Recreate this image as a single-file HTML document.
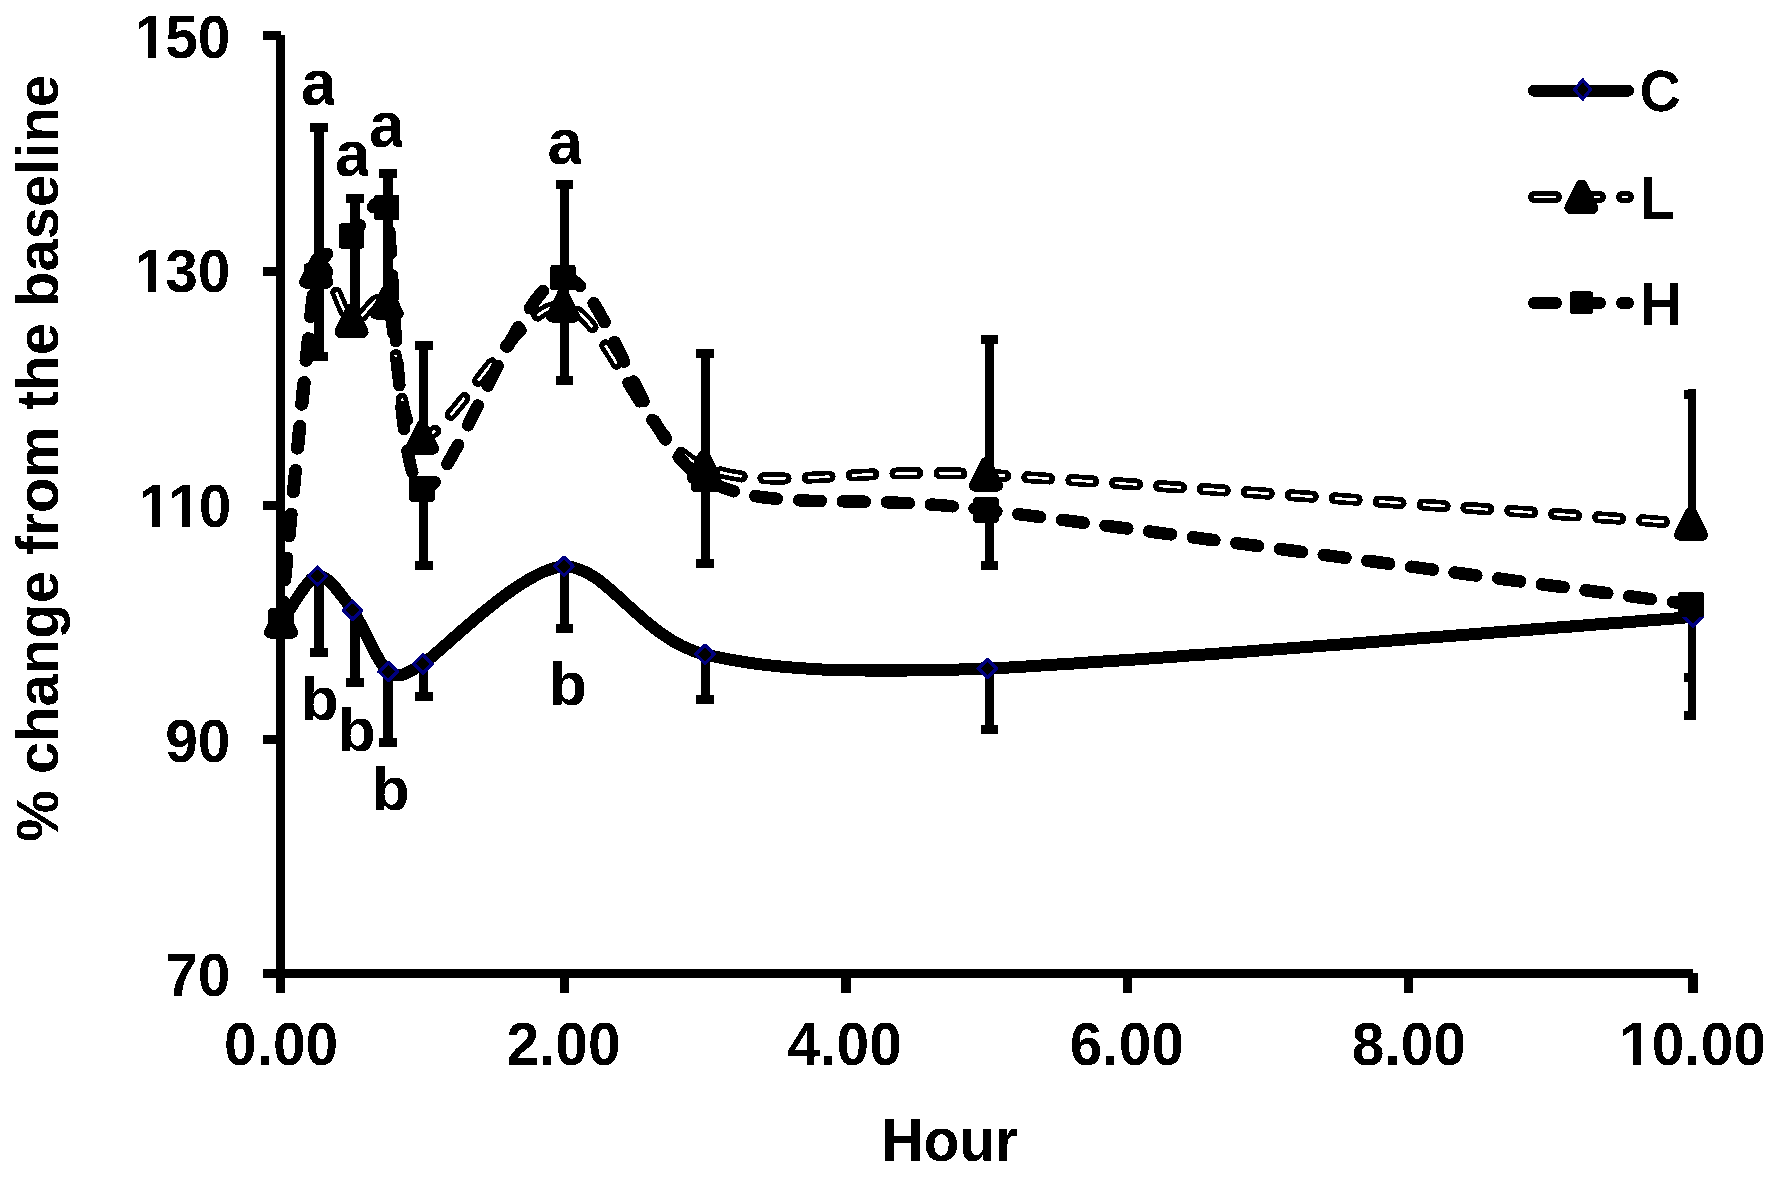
<!DOCTYPE html>
<html lang="en"><head><meta charset="utf-8"><title>% change from the baseline by Hour</title>
<style>
html,body{margin:0;padding:0;background:#fff;}
body{width:1780px;height:1178px;overflow:hidden;}
svg{display:block;}
text{font-family:"Liberation Sans", sans-serif;fill:#000;}
.b{font-weight:bold;}
.t{font-size:58.67px;}
.s{font-size:63.5px;}
.s2{font-size:62px;}
.lg{font-size:54.7px;font-weight:normal;stroke:#000;stroke-width:2.6px;stroke-linejoin:miter;}
</style></head><body>
<svg width="1780" height="1178" viewBox="0 0 1780 1178" role="img" aria-label="Line chart: % change from the baseline by Hour for groups C, L and H">
<defs><filter id="thr" x="0" y="0" width="1780" height="1178" filterUnits="userSpaceOnUse" color-interpolation-filters="sRGB">
<feColorMatrix type="matrix" values="1 0 0 0 0  1 0 0 0 0  -1 0 1 0 0  0 0 0 1 0"/>
<feComponentTransfer><feFuncR type="discrete" tableValues="0 1"/><feFuncG type="discrete" tableValues="0 1"/><feFuncB type="discrete" tableValues="0 0.502 0.502 0.502"/></feComponentTransfer>
<feColorMatrix type="matrix" values="1 0 0 0 0  0 1 0 0 0  1 0 1 0 0  0 0 0 1 0"/>
</filter></defs>
<rect x="0" y="0" width="1780" height="1178" fill="#fff"/>
<g filter="url(#thr)">
<rect x="0" y="0" width="1780" height="1178" fill="#fff"/>
<g fill="#000" shape-rendering="crispEdges">
<rect x="276" y="35" width="9" height="958"/>
<rect x="263" y="969" width="1430" height="9"/>
<rect x="263" y="31" width="18" height="9"/>
<rect x="263" y="267" width="18" height="9"/>
<rect x="263" y="501" width="18" height="9"/>
<rect x="263" y="735" width="18" height="9"/>
<rect x="560" y="973" width="9" height="20"/>
<rect x="841" y="973" width="10" height="20"/>
<rect x="1123" y="973" width="9" height="20"/>
<rect x="1404" y="973" width="9" height="20"/>
<rect x="1688" y="973" width="10" height="20"/>
</g>
<text class="b t" transform="translate(228.40 57.70) scale(1.0000 1.0300)" text-anchor="end"><tspan dx="2">1</tspan><tspan dx="-2">50</tspan></text>
<rect x="135" y="50.8" width="13" height="9" fill="#fff"/>
<rect x="156" y="50.8" width="12" height="9" fill="#fff"/>
<text class="b t" transform="translate(228.40 291.80) scale(1.0000 1.0300)" text-anchor="end"><tspan dx="2">1</tspan><tspan dx="-2">30</tspan></text>
<rect x="135" y="284.9" width="13" height="9" fill="#fff"/>
<rect x="156" y="284.9" width="12" height="9" fill="#fff"/>
<text class="b t" transform="translate(228.40 526.60) scale(1.0000 1.0300)" text-anchor="end"><tspan dx="3">11</tspan><tspan dx="-2">0</tspan></text>
<rect x="139" y="519.7" width="13" height="9" fill="#fff"/>
<rect x="160" y="519.7" width="22" height="9" fill="#fff"/>
<rect x="190" y="519.7" width="12" height="9" fill="#fff"/>
<text class="b t" transform="translate(230.40 761.70) scale(1.0000 1.0300)" text-anchor="end">90</text>
<text class="b t" transform="translate(230.40 995.90) scale(1.0000 1.0300)" text-anchor="end">70</text>
<text class="b t" transform="translate(281.10 1065.40) scale(1.0000 1.0300)" text-anchor="middle">0.00</text>
<text class="b t" transform="translate(563.50 1065.40) scale(1.0000 1.0300)" text-anchor="middle">2.00</text>
<text class="b t" transform="translate(844.70 1065.40) scale(1.0000 1.0300)" text-anchor="middle">4.00</text>
<text class="b t" transform="translate(1126.80 1065.40) scale(1.0000 1.0300)" text-anchor="middle">6.00</text>
<text class="b t" transform="translate(1408.90 1065.40) scale(1.0000 1.0300)" text-anchor="middle">8.00</text>
<text class="b t" transform="translate(1692.50 1065.40) scale(1.0000 1.0300)" text-anchor="middle">10.00</text>
<rect x="1620" y="1058.5" width="13" height="9" fill="#fff"/>
<rect x="1641" y="1058.5" width="11" height="9" fill="#fff"/>
<text class="b t" transform="translate(949.60 1160.60) scale(1.0000 1.0300)" text-anchor="middle">Hour</text>
<text class="b t" transform="translate(58.3 458.3) rotate(-90)" text-anchor="middle" textLength="767" lengthAdjust="spacingAndGlyphs">% change from the baseline</text>
<g fill="#000" shape-rendering="crispEdges">
<rect x="314" y="123.0" width="10" height="238.0"/>
<rect x="310" y="123.0" width="18" height="9"/>
<rect x="310" y="352.0" width="18" height="9"/>
<rect x="350" y="194.0" width="10" height="141.0"/>
<rect x="346" y="194.0" width="18" height="9"/>
<rect x="383" y="169.0" width="10" height="146.0"/>
<rect x="379" y="169.0" width="18" height="9"/>
<rect x="419" y="341.0" width="9" height="99.0"/>
<rect x="415" y="341.0" width="18" height="9"/>
<rect x="419" y="489.0" width="9" height="81.0"/>
<rect x="415" y="561.0" width="18" height="9"/>
<rect x="560" y="180.0" width="9" height="205.0"/>
<rect x="556" y="180.0" width="17" height="9"/>
<rect x="556" y="376.0" width="17" height="9"/>
<rect x="701" y="349.0" width="9" height="219.0"/>
<rect x="696" y="349.0" width="18" height="9"/>
<rect x="696" y="559.0" width="18" height="9"/>
<rect x="985" y="335.0" width="9" height="140.0"/>
<rect x="981" y="335.0" width="17" height="9"/>
<rect x="985" y="510.0" width="9" height="60.0"/>
<rect x="981" y="561.0" width="17" height="9"/>
<rect x="1688" y="389.0" width="8" height="135.0"/>
<rect x="1684" y="389.5" width="12" height="9"/>
<rect x="1688" y="604.0" width="8" height="116.0"/>
<rect x="1684" y="673.0" width="12" height="9"/>
<rect x="1684" y="711.0" width="12" height="9"/>
<rect x="314" y="576.0" width="10" height="81.0"/>
<rect x="310" y="648.0" width="18" height="9"/>
<rect x="350" y="610.0" width="10" height="77.0"/>
<rect x="346" y="678.0" width="18" height="9"/>
<rect x="383" y="672.0" width="10" height="75.0"/>
<rect x="379" y="738.0" width="18" height="9"/>
<rect x="419" y="664.0" width="9" height="37.0"/>
<rect x="415" y="692.0" width="18" height="9"/>
<rect x="560" y="566.0" width="9" height="67.0"/>
<rect x="556" y="624.0" width="17" height="9"/>
<rect x="701" y="654.0" width="9" height="50.0"/>
<rect x="696" y="695.0" width="18" height="9"/>
<rect x="985" y="668.0" width="9" height="66.0"/>
<rect x="981" y="725.0" width="17" height="9"/>
</g>
<path d="M282.00 621.75 C287.31 614.89 306.84 577.75 317.40 576.00 C327.96 574.25 341.78 595.75 352.40 610.10 C363.02 624.46 377.62 663.65 388.20 671.70 C398.77 679.75 407.64 672.95 422.90 663.80 C438.16 654.65 521.58 567.81 563.90 566.40 C606.22 564.99 641.49 639.10 705.00 654.40 C768.51 669.70 846.08 673.76 987.30 668.40 C1128.52 663.04 1586.97 624.62 1692.80 616.90" fill="none" stroke="#000" stroke-width="12" stroke-linecap="round" stroke-linejoin="round"/>
<polygon points="316.80,565.17 318.00,565.17 328.23,575.40 328.23,576.60 318.00,586.83 316.80,586.83 306.57,576.60 306.57,575.40" fill="#000080"/>
<polygon points="317.40,569.23 324.17,576.00 317.40,582.77 310.63,576.00" fill="#000"/>
<polygon points="351.80,599.27 353.00,599.27 363.23,609.50 363.23,610.70 353.00,620.93 351.80,620.93 341.57,610.70 341.57,609.50" fill="#000080"/>
<polygon points="352.40,603.33 359.17,610.10 352.40,616.87 345.63,610.10" fill="#000"/>
<polygon points="387.60,660.87 388.80,660.87 399.03,671.10 399.03,672.30 388.80,682.53 387.60,682.53 377.37,672.30 377.37,671.10" fill="#000080"/>
<polygon points="388.20,664.93 394.97,671.70 388.20,678.47 381.43,671.70" fill="#000"/>
<polygon points="422.30,652.97 423.50,652.97 433.73,663.20 433.73,664.40 423.50,674.63 422.30,674.63 412.07,664.40 412.07,663.20" fill="#000080"/>
<polygon points="422.90,657.03 429.67,663.80 422.90,670.57 416.13,663.80" fill="#000"/>
<polygon points="563.30,555.57 564.50,555.57 574.73,565.80 574.73,567.00 564.50,577.23 563.30,577.23 553.07,567.00 553.07,565.80" fill="#000080"/>
<polygon points="563.90,559.63 570.67,566.40 563.90,573.17 557.13,566.40" fill="#000"/>
<polygon points="704.40,643.57 705.60,643.57 715.83,653.80 715.83,655.00 705.60,665.23 704.40,665.23 694.17,655.00 694.17,653.80" fill="#000080"/>
<polygon points="705.00,647.63 711.77,654.40 705.00,661.17 698.23,654.40" fill="#000"/>
<polygon points="986.70,657.57 987.90,657.57 998.13,667.80 998.13,669.00 987.90,679.23 986.70,679.23 976.47,669.00 976.47,667.80" fill="#000080"/>
<polygon points="987.30,661.63 994.07,668.40 987.30,675.17 980.53,668.40" fill="#000"/>
<polygon points="1692.20,606.07 1693.40,606.07 1703.63,616.30 1703.63,617.50 1693.40,627.73 1692.20,627.73 1681.97,617.50 1681.97,616.30" fill="#000080"/>
<polygon points="1692.80,610.13 1699.57,616.90 1692.80,623.67 1686.03,616.90" fill="#000"/>
<path d="M281.00 621.60 C286.29 569.04 309.28 300.90 316.25 271.20 C323.22 241.50 340.93 316.29 351.50 321.00 C362.07 325.71 376.46 285.59 386.75 302.60 C397.04 319.61 395.56 437.17 422.00 437.60" fill="none" stroke="#000" stroke-width="12" stroke-linecap="round" stroke-dasharray="22 22" stroke-dashoffset="2.20"/>
<path d="M281.00 621.60 C286.29 569.04 309.28 300.90 316.25 271.20 C323.22 241.50 340.93 316.29 351.50 321.00 C362.07 325.71 376.46 285.59 386.75 302.60 C397.04 319.61 395.56 437.17 422.00 437.60" fill="none" stroke="#fff" stroke-width="2.7" stroke-linecap="butt" stroke-dasharray="22 22" stroke-dashoffset="2.20"/>
<path d="M422.00 437.60 C448.44 438.04 520.70 301.09 563.00 305.50 C605.30 309.91 640.55 441.62 704.00 467.00 C767.45 492.38 845.18 466.60 986.00 474.70 C1126.82 482.80 1585.25 516.43 1691.00 523.80" fill="none" stroke="#000" stroke-width="12" stroke-linecap="round" stroke-dasharray="22 22" stroke-dashoffset="6.77"/>
<path d="M422.00 437.60 C448.44 438.04 520.70 301.09 563.00 305.50 C605.30 309.91 640.55 441.62 704.00 467.00 C767.45 492.38 845.18 466.60 986.00 474.70 C1126.82 482.80 1585.25 516.43 1691.00 523.80" fill="none" stroke="#fff" stroke-width="2.7" stroke-linecap="butt" stroke-dasharray="22 22" stroke-dashoffset="6.77"/>
<path d="M281.00 621.00 C286.29 569.25 311.45 302.22 316.25 276.00 C321.05 249.78 340.93 246.29 351.50 236.00 C362.07 225.71 380.66 185.54 386.75 207.40 C392.84 229.26 395.56 478.54 422.00 489.10" fill="none" stroke="#000" stroke-width="12.5" stroke-linecap="round" stroke-dasharray="22 22" stroke-dashoffset="2.20"/>
<path d="M422.00 489.10 C448.44 499.66 520.70 279.31 563.00 277.80 C605.30 276.29 640.55 444.17 704.00 479.00 C767.45 513.83 845.28 492.11 986.00 510.00 C1126.72 527.89 1585.25 590.33 1691.00 604.50" fill="none" stroke="#000" stroke-width="12.5" stroke-linecap="round" stroke-dasharray="22 22" stroke-dashoffset="6.49"/>
<path d="M281.0 610.1 L292.0 632.6 L270.0 632.6Z" fill="#000" stroke="#000" stroke-width="12" stroke-linejoin="round"/>
<path d="M316.2 259.7 L327.2 282.2 L305.2 282.2Z" fill="#000" stroke="#000" stroke-width="12" stroke-linejoin="round"/>
<path d="M351.5 309.5 L362.5 332.0 L340.5 332.0Z" fill="#000" stroke="#000" stroke-width="12" stroke-linejoin="round"/>
<path d="M386.8 291.1 L397.8 313.6 L375.8 313.6Z" fill="#000" stroke="#000" stroke-width="12" stroke-linejoin="round"/>
<path d="M422.0 426.1 L433.0 448.6 L411.0 448.6Z" fill="#000" stroke="#000" stroke-width="12" stroke-linejoin="round"/>
<path d="M563.0 294.0 L574.0 316.5 L552.0 316.5Z" fill="#000" stroke="#000" stroke-width="12" stroke-linejoin="round"/>
<path d="M704.0 455.5 L715.0 478.0 L693.0 478.0Z" fill="#000" stroke="#000" stroke-width="12" stroke-linejoin="round"/>
<path d="M986.0 463.2 L997.0 485.7 L975.0 485.7Z" fill="#000" stroke="#000" stroke-width="12" stroke-linejoin="round"/>
<path d="M1691.0 512.3 L1702.0 534.8 L1680.0 534.8Z" fill="#000" stroke="#000" stroke-width="12" stroke-linejoin="round"/>
<rect x="268.5" y="608.5" width="25" height="25" rx="1.5" fill="#000"/>
<rect x="303.8" y="263.5" width="25" height="25" rx="1.5" fill="#000"/>
<rect x="339.0" y="223.5" width="25" height="25" rx="1.5" fill="#000"/>
<rect x="374.2" y="194.9" width="25" height="25" rx="1.5" fill="#000"/>
<rect x="409.5" y="476.6" width="25" height="25" rx="1.5" fill="#000"/>
<rect x="550.5" y="265.3" width="25" height="25" rx="1.5" fill="#000"/>
<rect x="691.5" y="466.5" width="25" height="25" rx="1.5" fill="#000"/>
<rect x="973.5" y="497.5" width="25" height="25" rx="1.5" fill="#000"/>
<rect x="1678.5" y="592.0" width="25" height="25" rx="1.5" fill="#000"/>
<text class="b s" transform="translate(300.90 105.00) scale(1.0000 1.0300)" text-anchor="start">a</text>
<rect x="333.9" y="98.0" width="6" height="9" fill="#fff"/>
<text class="b s" transform="translate(335.00 175.70) scale(1.0000 1.0300)" text-anchor="start">a</text>
<rect x="368.0" y="168.7" width="6" height="9" fill="#fff"/>
<text class="b s" transform="translate(369.00 146.60) scale(1.0000 1.0300)" text-anchor="start">a</text>
<rect x="402.0" y="139.6" width="6" height="9" fill="#fff"/>
<text class="b s" transform="translate(547.60 163.60) scale(1.0000 1.0300)" text-anchor="start">a</text>
<rect x="580.6" y="156.6" width="6" height="9" fill="#fff"/>
<text class="b s2" transform="translate(300.80 719.80) scale(1.0000 1.0000)" text-anchor="start">b</text>
<text class="b s2" transform="translate(337.80 750.60) scale(1.0000 1.0000)" text-anchor="start">b</text>
<text class="b s2" transform="translate(371.70 810.20) scale(1.0000 1.0000)" text-anchor="start">b</text>
<text class="b s2" transform="translate(548.90 704.60) scale(1.0000 1.0000)" text-anchor="start">b</text>
<path d="M1534 90.8 L1628 90.8" stroke="#000" stroke-width="12" stroke-linecap="round" fill="none"/>
<polygon points="1582.20,78.00 1583.20,78.00 1592.18,88.78 1592.18,90.22 1583.20,101.00 1582.20,101.00 1573.22,90.22 1573.22,88.78" fill="#000080"/>
<polygon points="1582.70,82.40 1588.62,89.50 1582.70,96.60 1576.78,89.50" fill="#000"/>
<text class="lg" transform="translate(1640.60 109.90) scale(0.9850 1.0080)" text-anchor="start">C</text>
<path d="M1534 197 L1628 197" stroke="#000" stroke-width="12" stroke-linecap="round" stroke-dasharray="22 22" fill="none"/>
<path d="M1534 197 L1628 197" stroke="#fff" stroke-width="2.6" stroke-linecap="butt" stroke-dasharray="22 22" fill="none"/>
<path d="M1581.4 185.5 L1592.4 208.0 L1570.4 208.0Z" fill="#000" stroke="#000" stroke-width="12" stroke-linejoin="round"/>
<text class="lg" transform="translate(1640.20 217.60) scale(1.0850 1.0350)" text-anchor="start">L</text>
<path d="M1534 302.9 L1628 302.9" stroke="#000" stroke-width="12" stroke-linecap="round" stroke-dasharray="22 22" fill="none"/>
<rect x="1570.2" y="291.6" width="22.5" height="22.5" rx="1.5" fill="#000"/>
<text class="lg" transform="translate(1640.50 323.60) scale(1.0400 1.0350)" text-anchor="start">H</text>
</g>
</svg></body></html>
